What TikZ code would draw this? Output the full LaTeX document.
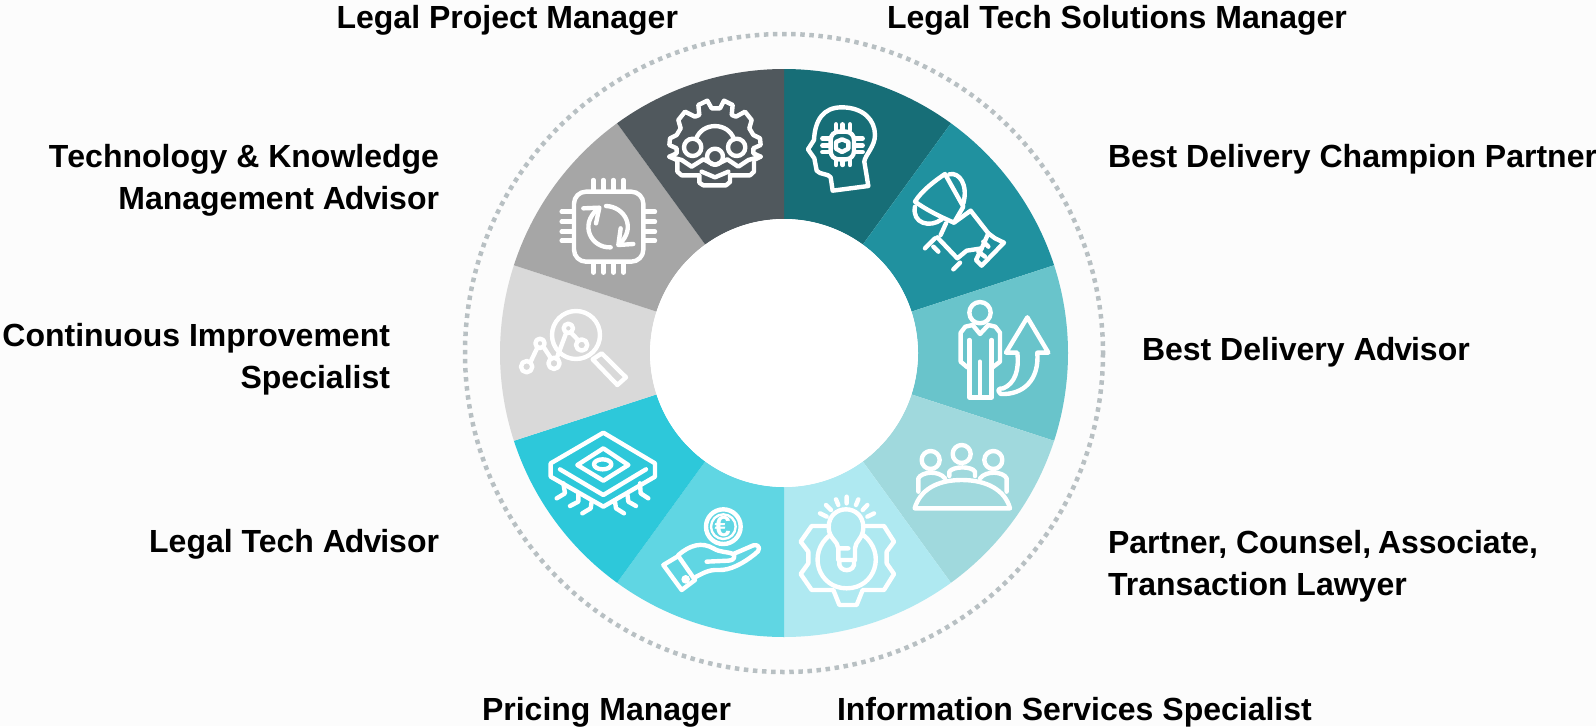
\documentclass[tikz,border=0pt]{standalone}
\usepackage{fontspec}
\setmainfont{Liberation Sans}
\definecolor{bgc}{HTML}{FCFCFC}
\definecolor{ringc}{HTML}{B8C0C3}
\definecolor{sA}{HTML}{176E77}
\definecolor{sB}{HTML}{20919F}
\definecolor{sC}{HTML}{69C4CB}
\definecolor{sD}{HTML}{A0D9DD}
\definecolor{sE}{HTML}{AFE9F1}
\definecolor{sF}{HTML}{60D6E3}
\definecolor{sG}{HTML}{2DC8DA}
\definecolor{sH}{HTML}{D9D9D9}
\definecolor{sI}{HTML}{A6A6A6}
\definecolor{sJ}{HTML}{50585D}
\tikzset{
  lab/.style={font=\bfseries\fontsize{32}{42}\selectfont,text=black,inner sep=0pt,outer sep=0pt},
  ico/.style={draw=white,line width=4.4pt,line cap=round,line join=round,fill=none},
  zoomed/.style={x=0.33333pt,y=-0.33333pt},
}
\newcommand{\seg}[3]{\fill[#3] (784,353) ++(#1:284) arc[start angle=#1,end angle=#2,radius=284] -- ++(#2+180:150) arc[start angle=#2,end angle=#1,radius=134] -- cycle;}
\newcommand{\Advisor}{A\kern-1pt d\kern-1pt v\kern-1pt isor}
\begin{document}
\begin{tikzpicture}[x=1pt,y=-1pt]
\useasboundingbox (0,0) rectangle (1596,726);
\fill[bgc] (0,0) rectangle (1596,726);
\draw[ringc,line width=4.5pt,dash pattern=on 4.5pt off 4.6pt] (784,353) circle[radius=319];
\seg{-90}{-54}{sA}
\seg{-54}{-18}{sB}
\seg{-18}{18}{sC}
\seg{18}{54}{sD}
\seg{54}{90}{sE}
\seg{90}{126}{sF}
\seg{126}{162}{sG}
\seg{162}{198}{sH}
\seg{198}{234}{sI}
\seg{234}{270}{sJ}
\fill[white] (784,353) circle[radius=134];

% gear with people
\begin{scope}[xshift=620pt,yshift=-60pt,zoomed]
\draw[ico] (170,300) -- (148,290) -- (170,280) -- (170,265) -- (148,255) -- (150,235) -- (170,225) -- (182,205) -- (175,180) -- (195,155) -- (225,170) -- (238,165) -- (235,135) -- (262,122) -- (275,145) -- (300,145) -- (312,122) -- (338,135) -- (335,165) -- (348,170) -- (375,155) -- (395,180) -- (388,205) -- (400,225) -- (420,235) -- (422,255) -- (400,265) -- (400,280) -- (422,290) -- (402,300);
\draw[ico] (148,290) -- (185,300) -- (215,320) -- (250,298) -- (285,315) -- (322,298) -- (355,320) -- (385,300) -- (422,290);
\draw[ico] (172,305) -- (172,335) -- (185,346) -- (238,346) -- (238,368) -- (250,376) -- (318,376) -- (330,366) -- (330,346) -- (390,346) -- (402,335) -- (402,308);
\draw[ico] (245,335) -- (285,352) -- (325,335);
\draw[ico] (218,262) circle[radius=26];
\draw[ico] (350,262) circle[radius=26];
\draw[ico] (285,290) circle[radius=24];
\draw[ico] (228,238) .. controls (245,185) and (325,185) .. (342,238);
\end{scope}

% head with chip
\begin{scope}[xshift=620pt,yshift=-60pt,zoomed]
\draw[ico] (745,378) -- (638,392) -- (632,352) .. controls (625,340) and (600,345) .. (590,332) -- (583,295) -- (564,268) -- (582,240) .. controls (585,180) and (610,142) .. (665,142) .. controls (730,142) and (765,180) .. (765,225) .. controls (765,260) and (735,285) .. (733,305) -- (745,378);
\draw[ico,rounded corners=8pt] (632,215) rectangle (702,298);
\draw[ico] (666,238) -- (685,246) -- (685,266) -- (666,276) -- (648,266) -- (648,246) -- cycle;
\foreach \x in {648,668,690}{\draw[ico] (\x,193) -- (\x,210); \draw[ico] (\x,300) -- (\x,315);}
\foreach \y in {236,256,276}{\draw[ico] (607,\y) -- (628,\y); \draw[ico] (706,\y) -- (728,\y);}
\end{scope}

% trophy hand
\begin{scope}[xshift=620pt,yshift=-60pt,zoomed]
\draw[ico] (885,425) .. controls (905,392) and (945,362) .. (975,342) -- (1030,440) -- (1002,488) .. controls (960,470) and (920,450) .. (885,425) -- cycle;
\draw[ico] (988,343) .. controls (1018,335) and (1045,375) .. (1030,430);
\draw[ico] (885,440) .. controls (875,490) and (930,505) .. (965,478);
\draw[ico] (978,490) -- (962,525);
\draw[ico] (1002,488) -- (1052,452) -- (1105,520) -- (1085,565) -- (1040,572) -- (1012,595) -- (952,532);
\draw[ico] (915,565) -- (945,535);
\draw[ico] (940,560) -- (955,575);
\draw[ico] (1000,628) -- (1020,608);
\draw[ico] (1105,520) -- (1125,535) -- (1152,548) -- (1085,617) -- (1068,600) -- (1085,565);
\draw[ico] (1090,545) -- (1105,560);
\draw[ico] (1075,575) -- (1095,590);
\end{scope}

% chip with arrows
\begin{scope}[xshift=500pt,yshift=-170pt,zoomed]
\draw[ico,rounded corners=12pt] (222,65) rectangle (430,275);
\foreach \x in {280,310,340,370}{\draw[ico] (\x,30) -- (\x,62); \draw[ico] (\x,278) -- (\x,308);}
\foreach \y in {125,155,185,212}{\draw[ico] (185,\y) -- (218,\y); \draw[ico] (434,\y) -- (465,\y);}
\draw[ico] (318,108) .. controls (375,110) and (410,175) .. (358,222);
\draw[ico] (362,175) -- (355,225) -- (400,222);
\draw[ico] (332,232) .. controls (275,235) and (235,165) .. (295,115);
\draw[ico] (250,115) -- (298,113) -- (288,160);
\end{scope}

% magnifier
\begin{scope}[xshift=500pt,yshift=-170pt,zoomed]
\draw[ico] (228,495) circle[radius=72];
\draw[ico] (80,590) circle[radius=17];
\draw[ico] (120,520) circle[radius=14];
\draw[ico] (162,580) circle[radius=17];
\draw[ico] (205,475) circle[radius=14];
\draw[ico] (245,525) circle[radius=17];
\draw[ico] (92,575) -- (112,533) (130,530) -- (153,565) (170,565) -- (198,490) (213,488) -- (236,512);
\draw[ico] (278,568) -- (305,550) -- (378,622) -- (352,645) -- cycle;
\end{scope}

% cpu
\begin{scope}[xshift=520pt,yshift=-420pt,zoomed]
\draw[ico] (250,38) -- (405,130) -- (405,170) -- (250,260) -- (92,170) -- (92,130) -- cycle;
\draw[ico] (120,148) -- (250,225) -- (378,148);
\draw[ico] (250,85) -- (325,135) -- (250,182) -- (172,135) -- cycle;
\draw[ico] (248,133) ellipse[x radius=26,y radius=15];
\draw[ico] (130,190) -- (135,220) -- (110,235);
\draw[ico] (175,222) -- (175,245) -- (150,258);
\draw[ico] (215,245) -- (212,265) -- (187,280);
\draw[ico] (285,245) -- (288,265) -- (312,280);
\draw[ico] (322,222) -- (325,245) -- (348,258);
\draw[ico] (360,190) -- (362,220) -- (385,235);
\end{scope}

% hand with euro
\begin{scope}[xshift=520pt,yshift=-420pt,zoomed]
\draw[ico] (610,320) circle[radius=52];
\node[text=white,inner sep=0pt,font=\bfseries\fontsize{29}{29}\selectfont] (euro) at (608,320) {€};
\draw[ico,line width=2.4pt] (610,320) circle[radius=37];
\draw[ico] (430,435) -- (475,408) -- (525,480) -- (485,510) -- cycle;
\fill[white] (497,478) circle[radius=13];
\draw[ico] (475,405) .. controls (510,375) and (545,365) .. (580,385) .. controls (600,398) and (625,395) .. (640,402) -- (700,376) .. controls (722,372) and (722,392) .. (705,402) .. controls (670,430) and (630,452) .. (595,450) .. controls (565,448) and (545,462) .. (525,472);
\draw[ico] (560,425) -- (625,422) .. controls (645,420) and (645,410) .. (640,402);
\end{scope}

% person arrow
\begin{scope}[xshift=780pt,yshift=-290pt,zoomed]
\draw[ico] (600,68) circle[radius=32];
\draw[ico] (578,105) -- (600,132) -- (625,105);
\draw[ico] (578,105) -- (556,110) -- (542,128) -- (542,215) -- (562,232);
\draw[ico] (625,105) -- (646,110) -- (660,128) -- (660,215) -- (638,232);
\draw[ico] (568,150) -- (568,322) -- (635,322) -- (635,150);
\draw[ico] (600,215) -- (600,320);
\draw[ico] (742,82) -- (805,188) -- (772,188) .. controls (778,270) and (730,315) .. (662,312) .. controls (650,300) and (655,295) .. (670,295) .. controls (705,280) and (718,240) .. (712,188) -- (678,188) -- cycle;
\end{scope}

% meeting
\begin{scope}[xshift=780pt,yshift=-290pt,zoomed]
\draw[ico] (452,510) circle[radius=27];
\draw[ico] (545,492) circle[radius=27];
\draw[ico] (640,510) circle[radius=27];
\draw[ico] (404,655) -- (690,655) .. controls (675,600) and (620,570) .. (545,570) .. controls (470,570) and (420,600) .. (404,655) -- cycle;
\draw[ico] (415,605) -- (415,565) .. controls (425,545) and (475,540) .. (495,565);
\draw[ico] (508,558) -- (508,545) .. controls (520,528) and (575,528) .. (585,545) -- (585,558);
\draw[ico] (600,565) .. controls (620,540) and (670,545) .. (680,565) -- (680,605);
\end{scope}

% bulb gear
\begin{scope}[xshift=780pt,yshift=-290pt,zoomed]
\draw[ico] (175,775) -- (175,810) -- (225,810) -- (225,775) .. controls (225,755) and (250,745) .. (250,712) .. controls (250,640) and (146,640) .. (146,712) .. controls (146,745) and (175,755) .. (175,775) -- (205,775);
\draw[ico] (178,812) .. controls (170,850) and (230,850) .. (222,812);
\draw[ico] (200,620) -- (200,640) (168,628) -- (175,645) (138,645) -- (153,660) (120,670) -- (140,680) (235,628) -- (228,645) (262,645) -- (248,660) (282,670) -- (262,680);
\draw[ico] (150,735) .. controls (80,790) and (115,895) .. (200,895) .. controls (285,895) and (320,790) .. (250,735);
\draw[ico] (140,708) -- (95,708) -- (62,755) -- (85,785) -- (85,820) -- (62,852) -- (95,900) -- (160,900) -- (178,945) -- (230,945) -- (248,900) -- (312,900) -- (342,852) -- (320,820) -- (320,785) -- (342,755) -- (312,708) -- (255,708);
\end{scope}

\node[lab,anchor=base east] (lpm) at (678,28) {Legal Project Manager};
\node[lab,anchor=base west] (ltsm) at (887,28) {Legal Tech Solutions Manager};
\node[lab,anchor=base east,align=right] (tkma) at (439,209.3) {T\kern-1pt echnology \& Knowledge\\Management \Advisor};
\node[lab,anchor=base west] (bdcp) at (1108,167) {Best Delivery Champion Partner};
\node[lab,anchor=base east,align=right] (cis) at (390,388.3) {Continuous Improvement\\Specialist};
\node[lab,anchor=base west] (bda) at (1142,360) {Best Delivery \Advisor};
\node[lab,anchor=base east] (lta) at (439,552) {Legal Tech \Advisor};
\node[lab,anchor=base west,align=left] (pcat) at (1108,595.3) {Partner, Counsel,\kern-2pt{} Associate,\kern-1pt\\Transaction Lawyer};
\node[lab,anchor=base east] (pm) at (731,720) {Pricing Manager};
\node[lab,anchor=base west] (iss) at (837,720) {Information Services Specialist};
\end{tikzpicture}
\end{document}
